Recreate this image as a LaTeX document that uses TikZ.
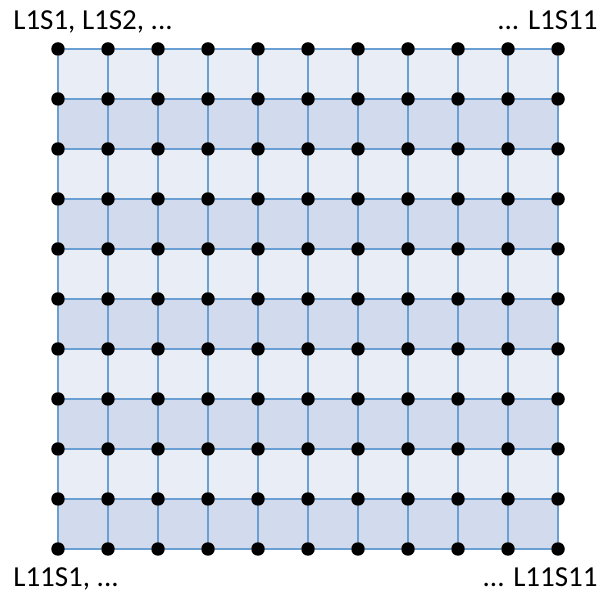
\documentclass[tikz,border=0pt]{standalone}
\usepackage{fontspec}
\setmainfont{Carlito}
\usepackage{tikz}
\usetikzlibrary{positioning}

\definecolor{cellLight}{HTML}{E9EDF5}
\definecolor{cellDark}{HTML}{D1DBED}
\definecolor{wireBlue}{HTML}{6A9FD4}

\begin{document}
\begin{tikzpicture}[
dot/.style={circle, fill=black, inner sep=0pt, minimum size=0.27cm},
wire/.style={draw=wireBlue, line width=0.9pt},
lbl/.style={font=\fontsize{16.5}{19}\selectfont, inner sep=0pt}
]
\useasboundingbox (-1.16,-0.92) rectangle (11.0,10.98);
% row fills, light and dark in turn
\foreach \j in {0,...,9} {
  \pgfmathtruncatemacro{\odd}{mod(\j,2)}
  \ifnum\odd=0 \fill[cellDark] (0,\j) rectangle (10,\j+1);
  \else \fill[cellLight] (0,\j) rectangle (10,\j+1); \fi
}
% dots
\foreach \i in {0,...,10}
  \foreach \j in {0,...,10}
    \node[dot] (d-\i-\j) at (\i,\j) {};
% wires
\foreach \i in {0,...,9} {
  \pgfmathtruncatemacro{\ii}{\i+1}
  \foreach \j in {0,...,10} {
    \draw[wire] (d-\i-\j) -- (d-\ii-\j);
    \draw[wire] (d-\j-\i) -- (d-\j-\ii);
  }
}
% labels
\node[lbl, anchor=base west] (topleft) at (-0.9,10.38) {L1S1, L1S2, ...};
\node[lbl, anchor=base east] (topright) at (10.8,10.38) {... L1S11};
\node[lbl, anchor=base west] (botleft) at (-0.9,-0.76) {L11S1, ...};
\node[lbl, anchor=base east] (botright) at (10.8,-0.76) {... L11S11};
\end{tikzpicture}
\end{document}
